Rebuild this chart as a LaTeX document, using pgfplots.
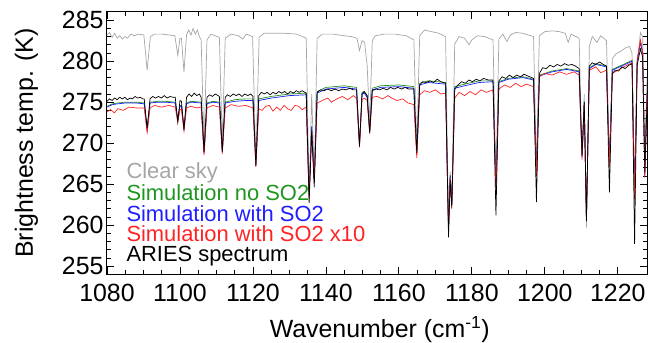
\documentclass[border=0pt]{standalone}
\usepackage{fontspec}
\setmainfont{Liberation Sans}
\usepackage{pgfplots}
\pgfplotsset{compat=1.18}
\definecolor{cgray}{RGB}{165,165,165}
\definecolor{cgreen}{RGB}{30,150,30}
\definecolor{cblue}{RGB}{30,30,255}
\definecolor{cred}{RGB}{255,35,35}
\begin{document}
\begin{tikzpicture}
\useasboundingbox (-107bp,-68bp) rectangle (541bp,274.3bp);
\begin{axis}[at={(0,0)}, anchor=south west, scale only axis,
  width=540bp, height=262.3bp,
  xmin=1080, xmax=1228, ymin=254, ymax=286,
  xtick={1080,1100,...,1220}, ytick={255,260,...,285},
  minor x tick num=3, minor y tick num=4,
  tick align=inside, major tick length=7bp, minor tick length=4bp,
  tick style={line width=0.8bp, black},
  axis line style={line width=1bp},
  ticklabel style={font=\fontsize{25}{30}\selectfont},
  /pgf/number format/assume math mode=true,
  /pgf/number format/1000 sep={},
  xticklabel style={yshift=-6bp},
  label style={font=\fontsize{25}{30}\selectfont},
  xlabel={Wavenumber (cm\textsuperscript{-1})},
  ylabel={Brightness temp. (K)},
  xlabel style={at={(axis description cs:0.505,-0.2097)}, anchor=center},
  ylabel style={at={(axis description cs:-0.149,0.5)}, anchor=center},
  no markers]
% Clear sky
\addplot[color=cgray, line width=0.7bp] coordinates {
(1080,283.2)(1080.7,283.5)(1081.4,282.9)(1082.1,283.4)(1082.8,282.8)(1083.5,283.1)(1084.2,282.7)(1084.9,283.0)(1085.6,282.8)(1086.5,283.3)(1087.5,283.1)(1088.5,283.3)(1090.1,283.2)(1091.0,278.9)(1091.9,283.0)(1093,283.3)(1095,283.3)(1097,283.2)(1098.6,283.1)(1099.4,280.7)(1100.0,282.8)(1100.4,282.8)(1101.1,278.7)(1101.8,283.2)(1102.4,283.8)(1103.0,283.2)(1103.6,284.0)(1104.2,283.3)(1104.8,283.8)(1105.3,283.0)(1105.8,282.6)(1106.6,269.8)(1107.4,282.6)(1108.5,283.3)(1110.8,282.9)(1111.6,270.0)(1112.4,282.8)(1114,283.3)(1116,283.1)(1117.2,282.7)(1118.2,283.3)(1119.9,283.0)(1120.8,268.0)(1121.7,282.9)(1123,283.4)(1126,283.4)(1129,283.4)(1132,283.3)(1134.6,282.8)(1135.4,264.0)(1136.1,276.0)(1136.8,266.0)(1137.6,282.8)(1139,283.3)(1142,283.3)(1145,283.1)(1147,283.0)(1148.5,282.8)(1149.2,281.3)(1149.9,282.5)(1150.6,282.3)(1151.3,279.5)(1152.0,272.5)(1152.7,282.5)(1153.5,283.1)(1156,283.3)(1159,283.3)(1162,283.1)(1164.1,282.6)(1164.9,269.5)(1165.7,283.1)(1167,283.8)(1169,283.6)(1171,283.4)(1172.8,283.0)(1173.6,260.0)(1174.05,266.5)(1174.5,263.0)(1175.3,282.1)(1176.5,283.0)(1178,282.8)(1179.2,282.0)(1180,282.6)(1181.5,283.1)(1183.5,283.0)(1185.8,282.6)(1186.6,265.5)(1187.4,282.7)(1188.5,283.3)(1189.6,282.4)(1190.6,283.2)(1192,283.5)(1194,283.4)(1196.9,283.0)(1197.7,267.0)(1198.5,283.1)(1200,283.6)(1202,283.7)(1204,283.6)(1205.6,283.4)(1206.4,282.3)(1207.2,283.3)(1209.4,282.8)(1210.2,268.5)(1210.8,276.0)(1211.4,259.7)(1212.2,281.8)(1213,283.0)(1214.3,282.3)(1215.3,283.1)(1216.9,282.5)(1217.7,267.5)(1218.5,280.3)(1219.5,280.9)(1220.8,281.2)(1222,281.6)(1223.2,281.8)(1223.9,281.0)(1224.6,263.5)(1225.3,279.5)(1226.2,283.5)(1226.8,283.0)(1227.4,268.0)(1228,278.0)
};
% Simulation no SO2
\addplot[color=cgreen, line width=0.7bp] coordinates {
(1080,274.5)(1081.5,274.8)(1083,274.9)(1085,275.0)(1088,275.0)(1090.2,274.9)(1091.0,271.7)(1091.8,275.0)(1094,275.1)(1096,275.1)(1098.7,275.0)(1099.4,272.9)(1100.0,274.6)(1100.4,274.6)(1101.1,271.9)(1101.8,274.9)(1103,275.1)(1105.8,275.0)(1106.6,268.9)(1107.4,274.9)(1109,275.1)(1110.8,275.0)(1111.6,269.1)(1112.4,275.0)(1115,275.3)(1118,275.4)(1120.0,275.4)(1120.8,267.5)(1121.6,275.4)(1125,275.7)(1130,276.0)(1134.6,276.1)(1135.4,263.6)(1136.1,272.1)(1136.8,265.6)(1137.6,276.3)(1140,276.8)(1145,277.0)(1148.4,276.8)(1149.2,269.9)(1149.9,276.2)(1150.5,276.3)(1151.3,275.8)(1152.0,271.6)(1152.7,276.7)(1155,277.0)(1160,277.1)(1164.1,276.9)(1164.9,268.7)(1165.7,277.3)(1168,277.6)(1172.8,277.4)(1173.6,259.6)(1174.05,266.1)(1174.5,262.6)(1175.3,276.9)(1178,277.2)(1182,277.6)(1185.8,277.6)(1186.6,264.7)(1187.4,277.5)(1190,277.9)(1194,278.1)(1196.9,277.8)(1197.7,266.4)(1198.5,278.3)(1202,278.8)(1206,279.1)(1209.4,278.8)(1210.2,268.4)(1210.8,275.1)(1211.4,260.9)(1212.2,279.2)(1214,279.7)(1216.9,279.4)(1217.7,267.6)(1218.5,279.0)(1220,279.3)(1222,279.7)(1223.9,280.1)(1224.6,263.6)(1225.3,280.1)(1226.2,282.4)(1226.8,281.1)(1227.4,266.1)(1228,276.1)
};
% Simulation with SO2
\addplot[color=cblue, line width=0.7bp] coordinates {
(1080,274.4)(1081.5,274.7)(1083,274.8)(1085,274.9)(1088,274.9)(1090.2,274.8)(1091.0,271.6)(1091.8,274.9)(1094,275.0)(1096,275.0)(1098.7,274.9)(1099.4,272.8)(1100.0,274.5)(1100.4,274.5)(1101.1,271.8)(1101.8,274.8)(1103,275.0)(1105.8,274.9)(1106.6,268.8)(1107.4,274.8)(1109,275.0)(1110.8,274.9)(1111.6,269.0)(1112.4,274.9)(1115,275.1)(1118,275.2)(1120.0,275.2)(1120.8,267.4)(1121.6,275.2)(1125,275.5)(1130,275.8)(1134.6,275.9)(1135.4,263.5)(1136.1,272.0)(1136.8,265.5)(1137.6,276.1)(1140,276.6)(1145,276.8)(1148.4,276.6)(1149.2,269.8)(1149.9,276.0)(1150.5,276.1)(1151.3,275.6)(1152.0,271.5)(1152.7,276.5)(1155,276.8)(1160,276.9)(1164.1,276.7)(1164.9,268.6)(1165.7,277.1)(1168,277.4)(1172.8,277.2)(1173.6,259.5)(1174.05,266.0)(1174.5,262.5)(1175.3,276.7)(1178,277.0)(1182,277.4)(1185.8,277.5)(1186.6,264.6)(1187.4,277.4)(1190,277.8)(1194,278.0)(1196.9,277.7)(1197.7,266.3)(1198.5,278.2)(1202,278.7)(1206,279.0)(1209.4,278.7)(1210.2,268.3)(1210.8,275.0)(1211.4,260.8)(1212.2,279.1)(1214,279.6)(1216.9,279.3)(1217.7,267.5)(1218.5,278.9)(1220,279.2)(1222,279.6)(1223.9,280.0)(1224.6,263.5)(1225.3,280.0)(1226.2,282.3)(1226.8,281.0)(1227.4,266.0)(1228,276.0)
};
% Simulation with SO2 x10
\addplot[color=cred, line width=0.7bp] coordinates {
(1080,273.8)(1081,274.1)(1082,273.7)(1083,274.2)(1084.5,274.0)(1086,274.4)(1088,274.3)(1090.2,274.3)(1091.0,271.3)(1091.8,274.3)(1093,274.6)(1095,274.4)(1097,274.6)(1098.7,274.4)(1099.4,272.5)(1100.0,274.1)(1100.4,274.1)(1101.1,271.5)(1101.8,274.3)(1103,274.5)(1104.5,274.3)(1105.8,274.4)(1106.6,268.5)(1107.4,274.3)(1109,274.6)(1110.8,274.4)(1111.6,268.7)(1112.4,274.3)(1114,274.7)(1116,274.5)(1118,274.6)(1120.0,274.3)(1120.8,267.1)(1121.6,274.2)(1122.5,274.0)(1123.5,274.5)(1124.5,274.6)(1125.5,273.9)(1126.5,274.4)(1127.5,274.0)(1128.5,274.6)(1129.5,274.2)(1130.5,274.0)(1131.5,274.6)(1132.5,274.5)(1133.5,274.1)(1134.6,274.4)(1135.4,263.2)(1136.1,271.5)(1136.8,265.2)(1137.6,274.9)(1139,275.2)(1140.5,275.5)(1141.5,275.0)(1143,275.4)(1144.5,275.7)(1146,275.3)(1147.5,275.8)(1148.4,275.5)(1149.2,269.5)(1149.9,275.3)(1150.5,275.5)(1151.3,275.2)(1152.0,271.2)(1152.7,275.6)(1154,275.7)(1155.5,275.4)(1157,275.8)(1158,275.5)(1159.5,275.2)(1161,275.4)(1162.5,274.9)(1164.1,274.7)(1164.9,268.2)(1165.7,275.9)(1167,276.4)(1168.5,276.2)(1170,276.5)(1171.5,276.0)(1172.8,276.1)(1173.6,259.3)(1174.05,265.8)(1174.5,262.3)(1175.3,275.5)(1176.5,276.2)(1178,275.8)(1179.5,276.3)(1181,275.9)(1182.5,276.5)(1184,276.2)(1185.8,276.5)(1186.6,264.4)(1187.4,276.6)(1189,277.1)(1190.5,276.8)(1192,277.3)(1193.5,276.9)(1195,277.2)(1196.9,276.9)(1197.7,266.0)(1198.5,278.1)(1200,278.5)(1202,278.3)(1204,278.7)(1206,278.4)(1208,278.7)(1209.4,278.3)(1210.2,268.0)(1210.8,274.8)(1211.4,260.5)(1212.2,278.9)(1214,279.3)(1215.3,278.6)(1216.9,278.9)(1217.7,267.2)(1218.5,278.5)(1220,278.9)(1222,279.4)(1223.9,279.8)(1224.6,263.2)(1225.3,280.2)(1226.2,282.6)(1226.8,281.2)(1227.4,265.8)(1228,276.0)
};
% ARIES spectrum
\addplot[color=black, line width=0.7bp] coordinates {
(1080,275.1)(1080.7,275.4)(1081.4,275.2)(1082.1,275.5)(1082.8,275.3)(1083.5,275.6)(1084.2,275.4)(1084.9,275.6)(1085.6,275.3)(1086.3,275.5)(1087,275.4)(1087.7,275.7)(1088.4,275.5)(1089.1,275.6)(1089.8,275.4)(1090.2,275.4)(1091.0,271.8)(1091.8,275.4)(1092.5,275.7)(1093.3,275.5)(1094.1,275.7)(1094.9,275.5)(1095.7,275.8)(1096.5,275.5)(1097.3,275.7)(1098.0,275.6)(1098.7,275.6)(1099.4,272.6)(1100.0,275.2)(1100.4,275.1)(1101.1,271.6)(1101.8,275.6)(1102.5,276.0)(1103.2,275.7)(1103.9,276.1)(1104.6,275.8)(1105.3,276.0)(1105.8,275.6)(1106.6,268.9)(1107.4,275.6)(1108.1,275.9)(1108.9,275.7)(1109.7,276.0)(1110.8,275.7)(1111.6,268.9)(1112.4,275.6)(1113,275.9)(1113.8,275.7)(1114.6,276.0)(1115.4,275.8)(1116.2,276.0)(1117,275.7)(1117.8,276.0)(1118.6,275.8)(1119.4,276.0)(1120.0,275.7)(1120.8,267.2)(1121.6,275.8)(1122.3,276.2)(1123.1,276.0)(1123.9,276.2)(1124.7,275.9)(1125.5,276.2)(1126.3,276.0)(1127.1,276.3)(1127.9,276.1)(1128.7,276.3)(1129.5,276.0)(1130.3,276.3)(1131.1,276.1)(1131.9,276.4)(1132.7,276.2)(1133.5,276.4)(1134.6,276.1)(1135.4,262.7)(1136.1,271.5)(1136.8,264.6)(1137.6,276.2)(1138.5,276.5)(1139.5,276.4)(1140.5,276.6)(1141.5,276.4)(1142.5,276.6)(1143.5,276.4)(1144.5,276.6)(1145.5,276.5)(1146.5,276.7)(1147.5,276.5)(1148.4,276.5)(1149.2,269.6)(1149.9,276.0)(1150.5,276.3)(1151.3,275.8)(1152.0,271.2)(1152.7,276.4)(1153.7,276.6)(1154.7,276.5)(1155.7,276.7)(1156.7,276.5)(1157.7,276.8)(1158.7,276.6)(1159.7,276.8)(1160.7,276.6)(1161.7,276.8)(1162.7,276.6)(1164.1,276.6)(1164.9,268.8)(1165.7,277.1)(1166.5,277.5)(1167.5,277.4)(1168.5,277.6)(1169.5,277.4)(1170.5,277.8)(1171.5,277.5)(1172.8,277.3)(1173.6,258.5)(1174.05,265.5)(1174.5,262.0)(1175.3,276.6)(1176.2,277.1)(1177.2,277.5)(1178.2,277.3)(1179.2,277.7)(1180.2,277.5)(1181.2,277.8)(1182.2,277.6)(1183.2,277.9)(1184.5,277.7)(1185.8,277.7)(1186.6,261.2)(1187.4,277.6)(1188.3,278.1)(1189.3,277.9)(1190.3,278.3)(1191.3,278.0)(1192.3,278.3)(1193.3,278.1)(1194.3,278.4)(1195.3,278.2)(1196.9,277.9)(1197.7,262.8)(1198.5,278.5)(1199.4,279.2)(1200.4,279.1)(1201.4,279.5)(1202.4,279.3)(1203.4,279.6)(1204.4,279.4)(1205.4,279.7)(1206.4,279.5)(1207.4,279.6)(1208.4,279.4)(1209.4,279.1)(1210.2,268.5)(1210.8,275.0)(1211.4,260.5)(1212.2,279.4)(1213,279.8)(1214,279.6)(1215,279.9)(1216,279.6)(1216.9,279.4)(1217.7,264.0)(1218.5,278.5)(1219.3,278.9)(1220.2,278.8)(1221.1,279.3)(1222,279.1)(1223,279.5)(1223.9,279.7)(1224.6,257.7)(1225.3,279.5)(1226.2,281.5)(1226.8,280.5)(1227.4,266.5)(1228,275.0)
};
\node[anchor=base west, text=cgray, font=\fontsize{22}{26}\selectfont] at (rel axis cs:0.0296,0.365) {Clear sky};
\node[anchor=base west, text=cgreen, font=\fontsize{22}{26}\selectfont] at (rel axis cs:0.0296,0.280) {Simulation no SO2};
\node[anchor=base west, text=cblue, font=\fontsize{22}{26}\selectfont] at (rel axis cs:0.0296,0.202) {Simulation with SO2};
\node[anchor=base west, text=cred, font=\fontsize{22}{26}\selectfont] at (rel axis cs:0.0296,0.126) {Simulation with SO2 x10};
\node[anchor=base west, text=black, font=\fontsize{22}{26}\selectfont] at (rel axis cs:0.0296,0.050) {ARIES spectrum};
\end{axis}
\end{tikzpicture}
\end{document}
